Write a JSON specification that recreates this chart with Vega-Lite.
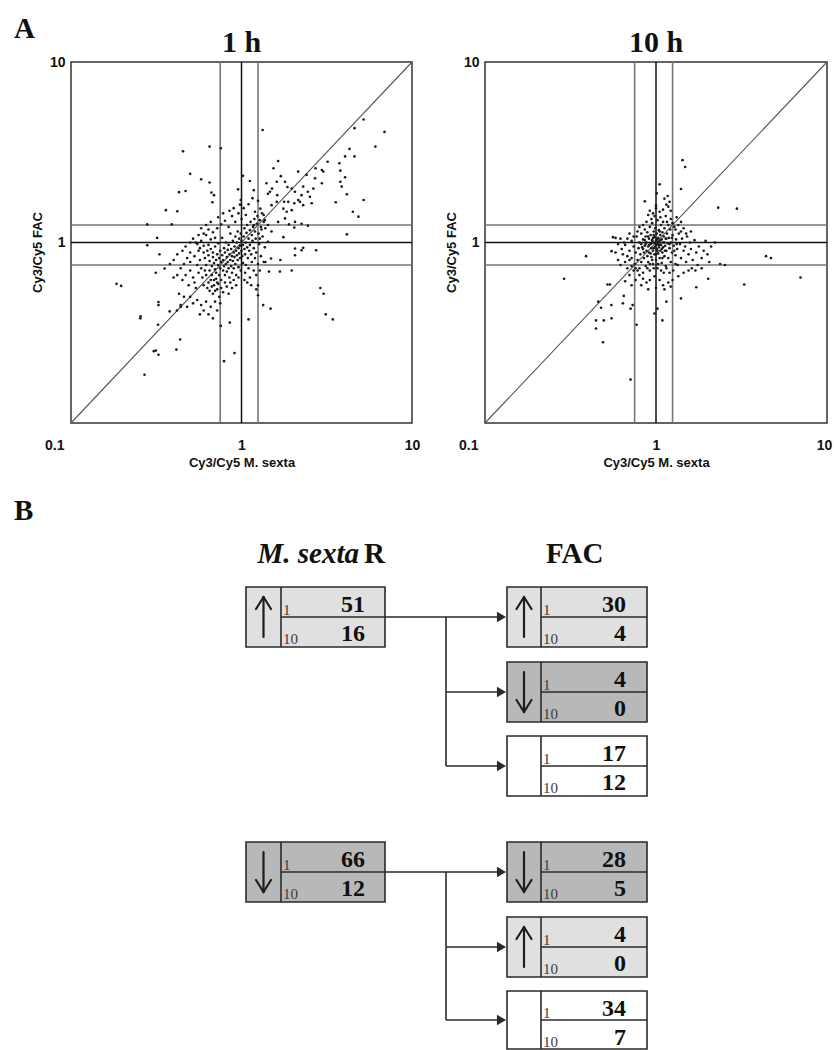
{
"$schema": "https://vega.github.io/schema/vega-lite/v6.json",
"padding": {"left": 13, "top": 14, "right": 0, "bottom": 0},
"background": "white",
"config": {
 "view": {"stroke": null},
 "axis": {"domain": false, "ticks": false, "tickSize": 0, "grid": false, "labelFont": "Liberation Sans", "labelFontWeight": "bold", "labelFontSize": 14, "labelColor": "#111", "titleFont": "Liberation Sans", "titleFontWeight": "bold", "titleFontSize": 13, "titleColor": "#111", "labelOverlap": false, "labelFlush": false}
},
"datasets": {
 "h1": [
  {"msexta":5.2,"fac":4.8},{"msexta":6.9,"fac":4.1},{"msexta":6.1,"fac":3.4},{"msexta":4.6,"fac":4.3},{"msexta":4.3,"fac":3.3},{"msexta":4.05,"fac":3.0},{"msexta":4.6,"fac":3.0},{"msexta":3.75,"fac":2.75},{"msexta":3.8,"fac":2.5},{"msexta":4.05,"fac":2.3},{"msexta":3.8,"fac":2.17},{"msexta":3.87,"fac":2.04},{"msexta":4.15,"fac":1.85},{"msexta":3.57,"fac":1.67},{"msexta":5.2,"fac":1.72},{"msexta":4.5,"fac":1.48},{"msexta":4.85,"fac":1.39},{"msexta":4.15,"fac":1.11},{"msexta":1.33,"fac":4.2},{"msexta":0.454,"fac":3.2},{"msexta":0.65,"fac":3.4},{"msexta":0.756,"fac":3.33},{"msexta":0.5,"fac":2.4},{"msexta":0.58,"fac":2.24},{"msexta":0.65,"fac":2.15},{"msexta":0.43,"fac":1.9},{"msexta":0.47,"fac":1.93},{"msexta":0.666,"fac":1.89},{"msexta":0.69,"fac":1.83},{"msexta":0.675,"fac":1.67},{"msexta":0.36,"fac":1.51},{"msexta":0.42,"fac":1.49},{"msexta":0.28,"fac":1.26},{"msexta":0.39,"fac":1.26},{"msexta":0.32,"fac":1.06},{"msexta":0.28,"fac":0.966},{"msexta":0.33,"fac":0.86},{"msexta":0.354,"fac":0.717},{"msexta":0.314,"fac":0.68},{"msexta":0.185,"fac":0.59},{"msexta":0.197,"fac":0.575},{"msexta":0.326,"fac":0.468},{"msexta":0.326,"fac":0.45},{"msexta":0.256,"fac":0.39},{"msexta":0.255,"fac":0.38},{"msexta":0.324,"fac":0.35},{"msexta":0.379,"fac":0.415},{"msexta":0.418,"fac":0.42},{"msexta":0.44,"fac":0.44},{"msexta":0.437,"fac":0.29},{"msexta":0.415,"fac":0.255},{"msexta":0.306,"fac":0.25},{"msexta":0.315,"fac":0.252},{"msexta":0.326,"fac":0.239},{"msexta":0.27,"fac":0.185},{"msexta":0.79,"fac":0.22},{"msexta":0.91,"fac":0.244},{"msexta":0.756,"fac":0.345},{"msexta":0.854,"fac":0.36},{"msexta":1.1,"fac":0.375},{"msexta":2.9,"fac":0.56},{"msexta":3.03,"fac":0.52},{"msexta":3.12,"fac":0.4},{"msexta":3.43,"fac":0.375},{"msexta":2.25,"fac":0.906},{"msexta":2.74,"fac":0.906},{"msexta":1.76,"fac":1.07},{"msexta":1.97,"fac":0.7},{"msexta":1.68,"fac":0.69},{"msexta":1.45,"fac":0.69},{"msexta":1.48,"fac":0.43},{"msexta":1.34,"fac":0.45},{"msexta":1.25,"fac":0.51},{"msexta":1.22,"fac":0.55},{"msexta":1.25,"fac":0.58},
  {"msexta":2.96,"fac":2.52},{"msexta":3.02,"fac":2.47},{"msexta":3.2,"fac":2.8},{"msexta":2.72,"fac":2.58},{"msexta":2.7,"fac":2.27},{"msexta":2.41,"fac":2.37},{"msexta":2.3,"fac":2.04},{"msexta":2.15,"fac":2.47},{"msexta":2.06,"fac":1.91},{"msexta":1.97,"fac":1.99},{"msexta":1.86,"fac":2.03},{"msexta":1.8,"fac":2.17},{"msexta":1.7,"fac":2.33},{"msexta":1.64,"fac":2.83},{"msexta":1.54,"fac":2.58},{"msexta":1.51,"fac":1.99},{"msexta":1.43,"fac":1.86},{"msexta":1.5,"fac":1.61},{"msexta":1.61,"fac":1.68},{"msexta":1.76,"fac":1.54},{"msexta":1.88,"fac":1.68},{"msexta":2.04,"fac":1.65},{"msexta":2.2,"fac":1.68},{"msexta":2.3,"fac":1.61},{"msexta":2.45,"fac":1.91},{"msexta":2.52,"fac":1.79},{"msexta":2.58,"fac":1.65},{"msexta":2.96,"fac":2.13},{"msexta":2.64,"fac":1.99},{"msexta":2.25,"fac":1.83},{"msexta":2.15,"fac":1.72},{"msexta":1.97,"fac":1.51},{"msexta":1.84,"fac":1.48},{"msexta":2.06,"fac":1.3},{"msexta":2.25,"fac":1.27},{"msexta":2.45,"fac":1.24},{"msexta":1.61,"fac":2.17},{"msexta":1.78,"fac":1.68},{"msexta":1.62,"fac":1.83},{"msexta":1.47,"fac":1.91},{"msexta":1.4,"fac":2.13},{"msexta":1.35,"fac":1.42},{"msexta":1.37,"fac":1.33},{"msexta":1.29,"fac":1.54},{"msexta":1.2,"fac":1.48},{"msexta":1.16,"fac":1.76},{"msexta":1.18,"fac":1.95},{"msexta":1.12,"fac":2.19},{"msexta":1.02,"fac":2.34},{"msexta":0.955,"fac":1.97},{"msexta":0.99,"fac":1.72},{"msexta":1.06,"fac":1.42},{"msexta":1.1,"fac":1.63},{"msexta":1.25,"fac":1.7},{"msexta":1.18,"fac":1.25},{"msexta":1.31,"fac":1.18},{"msexta":1.43,"fac":1.25},{"msexta":1.5,"fac":1.15},{"msexta":1.64,"fac":1.3},{"msexta":1.8,"fac":1.36},{"msexta":1.9,"fac":1.26},{"msexta":2.04,"fac":1.21},{"msexta":2.3,"fac":0.934},{"msexta":2.06,"fac":0.926},{"msexta":1.43,"fac":1.01},{"msexta":1.28,"fac":1.05},{"msexta":1.38,"fac":0.78},{"msexta":1.49,"fac":0.815},{"msexta":1.69,"fac":0.8},{"msexta":2.06,"fac":0.85},
  {"msexta":0.52,"fac":1.05},{"msexta":0.55,"fac":0.98},{"msexta":0.57,"fac":0.93},{"msexta":0.58,"fac":1.02},{"msexta":0.6,"fac":0.88},{"msexta":0.6,"fac":0.96},{"msexta":0.61,"fac":0.82},{"msexta":0.62,"fac":1.1},{"msexta":0.62,"fac":0.75},{"msexta":0.63,"fac":0.9},{"msexta":0.64,"fac":0.85},{"msexta":0.64,"fac":0.97},{"msexta":0.65,"fac":0.7},{"msexta":0.65,"fac":0.79},{"msexta":0.66,"fac":0.92},{"msexta":0.66,"fac":1.04},{"msexta":0.67,"fac":0.66},{"msexta":0.67,"fac":0.74},{"msexta":0.68,"fac":0.83},{"msexta":0.68,"fac":0.88},{"msexta":0.69,"fac":0.62},{"msexta":0.69,"fac":0.77},{"msexta":0.7,"fac":0.95},{"msexta":0.7,"fac":0.71},{"msexta":0.71,"fac":0.8},{"msexta":0.71,"fac":0.68},{"msexta":0.72,"fac":0.86},{"msexta":0.72,"fac":0.6},{"msexta":0.73,"fac":0.75},{"msexta":0.73,"fac":0.99},{"msexta":0.74,"fac":0.82},{"msexta":0.74,"fac":0.66},{"msexta":0.75,"fac":0.72},{"msexta":0.75,"fac":0.9},{"msexta":0.76,"fac":0.78},{"msexta":0.76,"fac":0.62},{"msexta":0.77,"fac":0.85},{"msexta":0.77,"fac":1.06},{"msexta":0.78,"fac":0.7},{"msexta":0.78,"fac":0.8},{"msexta":0.79,"fac":0.93},{"msexta":0.79,"fac":0.74},{"msexta":0.8,"fac":0.66},{"msexta":0.8,"fac":0.88},{"msexta":0.81,"fac":0.76},{"msexta":0.81,"fac":1.0},{"msexta":0.82,"fac":0.83},{"msexta":0.82,"fac":0.69},{"msexta":0.83,"fac":0.91},{"msexta":0.83,"fac":0.78},{"msexta":0.84,"fac":0.72},{"msexta":0.84,"fac":0.97},{"msexta":0.85,"fac":0.86},{"msexta":0.85,"fac":0.64},{"msexta":0.86,"fac":0.8},{"msexta":0.86,"fac":1.12},{"msexta":0.87,"fac":0.74},{"msexta":0.87,"fac":0.92},{"msexta":0.88,"fac":0.84},{"msexta":0.88,"fac":0.68},{"msexta":0.89,"fac":1.02},{"msexta":0.89,"fac":0.79},{"msexta":0.9,"fac":0.88},{"msexta":0.9,"fac":0.72},{"msexta":0.91,"fac":0.95},{"msexta":0.91,"fac":0.83},{"msexta":0.92,"fac":1.08},{"msexta":0.92,"fac":0.76},{"msexta":0.93,"fac":0.9},{"msexta":0.93,"fac":0.66},{"msexta":0.94,"fac":0.85},{"msexta":0.94,"fac":1.0},{"msexta":0.95,"fac":0.8},{"msexta":0.95,"fac":1.15},{"msexta":0.96,"fac":0.93},{"msexta":0.96,"fac":0.73},{"msexta":0.97,"fac":0.87},{"msexta":0.97,"fac":1.05},{"msexta":0.98,"fac":0.82},{"msexta":0.98,"fac":0.96},{"msexta":0.99,"fac":0.7},{"msexta":0.99,"fac":1.12},{"msexta":1.0,"fac":0.9},{"msexta":1.0,"fac":1.02},{"msexta":1.01,"fac":0.84},{"msexta":1.02,"fac":0.97},{"msexta":1.02,"fac":0.77},{"msexta":1.03,"fac":1.08},{"msexta":1.04,"fac":0.92},{"msexta":1.04,"fac":1.2},{"msexta":1.05,"fac":0.86},{"msexta":1.06,"fac":1.0},{"msexta":1.06,"fac":0.75},{"msexta":1.07,"fac":1.13},{"msexta":1.08,"fac":0.94},{"msexta":1.08,"fac":1.25},{"msexta":1.09,"fac":0.82},{"msexta":1.1,"fac":1.05},{"msexta":1.11,"fac":0.9},{"msexta":1.12,"fac":1.17},{"msexta":1.12,"fac":0.97},{"msexta":1.13,"fac":1.3},{"msexta":1.14,"fac":0.86},{"msexta":1.15,"fac":1.1},{"msexta":1.16,"fac":1.02},{"msexta":1.17,"fac":1.22},{"msexta":1.18,"fac":0.93},{"msexta":1.19,"fac":1.35},{"msexta":1.2,"fac":1.15},{"msexta":1.21,"fac":1.05},{"msexta":1.22,"fac":0.88},{"msexta":1.23,"fac":1.27},{"msexta":1.24,"fac":1.4},{"msexta":1.26,"fac":1.12},{"msexta":1.27,"fac":0.98},{"msexta":1.28,"fac":1.33},{"msexta":1.3,"fac":1.22},{"msexta":1.32,"fac":1.45},{"msexta":1.33,"fac":1.08},{"msexta":1.35,"fac":1.3},{"msexta":1.37,"fac":0.94},{"msexta":1.38,"fac":1.2},
  {"msexta":0.55,"fac":0.75},{"msexta":0.56,"fac":0.68},{"msexta":0.57,"fac":0.8},{"msexta":0.58,"fac":0.72},{"msexta":0.59,"fac":0.64},{"msexta":0.6,"fac":0.58},{"msexta":0.61,"fac":0.7},{"msexta":0.62,"fac":0.66},{"msexta":0.63,"fac":0.56},{"msexta":0.64,"fac":0.6},{"msexta":0.65,"fac":0.54},{"msexta":0.66,"fac":0.62},{"msexta":0.67,"fac":0.57},{"msexta":0.68,"fac":0.52},{"msexta":0.69,"fac":0.58},{"msexta":0.7,"fac":0.54},{"msexta":0.71,"fac":0.63},{"msexta":0.72,"fac":0.55},{"msexta":0.73,"fac":0.59},{"msexta":0.74,"fac":0.5},{"msexta":0.76,"fac":0.56},{"msexta":0.78,"fac":0.53},{"msexta":0.8,"fac":0.6},{"msexta":0.82,"fac":0.57},{"msexta":0.84,"fac":0.52},{"msexta":0.86,"fac":0.6},{"msexta":0.88,"fac":0.56},{"msexta":0.9,"fac":0.62},{"msexta":0.93,"fac":0.58},{"msexta":0.96,"fac":0.64},{"msexta":0.5,"fac":0.88},{"msexta":0.48,"fac":0.82},{"msexta":0.46,"fac":0.76},{"msexta":0.5,"fac":0.7},{"msexta":0.52,"fac":0.64},{"msexta":0.53,"fac":0.6},{"msexta":0.54,"fac":0.56},{"msexta":0.44,"fac":0.72},{"msexta":0.47,"fac":0.66},{"msexta":0.49,"fac":0.58},{"msexta":0.45,"fac":0.62},{"msexta":0.42,"fac":0.66},{"msexta":0.4,"fac":0.64},{"msexta":0.43,"fac":0.52},{"msexta":0.46,"fac":0.5},{"msexta":0.5,"fac":0.5},{"msexta":0.55,"fac":0.48},{"msexta":0.58,"fac":0.45},{"msexta":0.62,"fac":0.47},{"msexta":0.66,"fac":0.44},{"msexta":0.7,"fac":0.47},{"msexta":0.6,"fac":0.42},{"msexta":0.57,"fac":0.4},{"msexta":0.64,"fac":0.4},{"msexta":0.68,"fac":0.38},{"msexta":0.72,"fac":0.42},{"msexta":0.75,"fac":0.46},{"msexta":0.52,"fac":0.46},{"msexta":0.48,"fac":0.44},{"msexta":0.44,"fac":0.45},{"msexta":0.5,"fac":0.78},{"msexta":0.53,"fac":0.84},{"msexta":0.56,"fac":0.9},{"msexta":0.54,"fac":1.0},{"msexta":0.5,"fac":1.0},{"msexta":0.47,"fac":0.95},{"msexta":0.45,"fac":0.9},{"msexta":0.42,"fac":0.86},{"msexta":0.4,"fac":0.8},{"msexta":0.38,"fac":0.76},{"msexta":0.6,"fac":1.12},{"msexta":0.56,"fac":1.1},{"msexta":0.64,"fac":1.18},{"msexta":0.68,"fac":1.14},{"msexta":0.7,"fac":1.06},{"msexta":0.72,"fac":1.2},{"msexta":0.76,"fac":1.26},{"msexta":0.8,"fac":1.32},{"msexta":0.84,"fac":1.22},{"msexta":0.88,"fac":1.4},{"msexta":0.92,"fac":1.3},{"msexta":0.96,"fac":1.45},{"msexta":1.0,"fac":1.35},{"msexta":1.03,"fac":1.55},{"msexta":0.98,"fac":1.62},{"msexta":0.9,"fac":1.55},{"msexta":0.85,"fac":1.5},{"msexta":0.78,"fac":1.45},{"msexta":0.73,"fac":1.38},{"msexta":0.66,"fac":1.3},{"msexta":0.62,"fac":1.25},{"msexta":0.58,"fac":1.2},{"msexta":1.05,"fac":0.68},{"msexta":1.1,"fac":0.72},{"msexta":1.15,"fac":0.78},{"msexta":1.2,"fac":0.82},{"msexta":1.25,"fac":0.76},{"msexta":1.3,"fac":0.84},{"msexta":1.12,"fac":0.64},{"msexta":1.18,"fac":0.7},{"msexta":1.22,"fac":0.66},{"msexta":1.08,"fac":0.6},{"msexta":1.04,"fac":0.62},{"msexta":1.14,"fac":0.58},{"msexta":1.35,"fac":0.78},{"msexta":1.28,"fac":0.7}
 ],
 "h10": [
  {"msexta":1.43,"fac":2.86},{"msexta":1.48,"fac":2.62},{"msexta":1.05,"fac":2.1},{"msexta":1.4,"fac":1.98},{"msexta":1.17,"fac":1.81},{"msexta":2.31,"fac":1.56},{"msexta":2.97,"fac":1.54},{"msexta":0.86,"fac":1.69},{"msexta":1.01,"fac":1.87},{"msexta":0.39,"fac":0.84},{"msexta":0.29,"fac":0.63},{"msexta":4.4,"fac":0.84},{"msexta":4.7,"fac":0.82},{"msexta":7.0,"fac":0.64},{"msexta":3.28,"fac":0.585},{"msexta":0.46,"fac":0.47},{"msexta":0.477,"fac":0.435},{"msexta":0.446,"fac":0.37},{"msexta":0.495,"fac":0.37},{"msexta":0.55,"fac":0.38},{"msexta":0.446,"fac":0.334},{"msexta":0.49,"fac":0.28},{"msexta":0.548,"fac":0.45},{"msexta":0.71,"fac":0.174},{"msexta":0.77,"fac":0.35},{"msexta":1.09,"fac":0.37},{"msexta":0.98,"fac":0.404},{"msexta":1.15,"fac":0.47},{"msexta":1.02,"fac":0.43},{"msexta":0.648,"fac":0.506},{"msexta":0.64,"fac":0.46},{"msexta":0.71,"fac":0.43},{"msexta":0.73,"fac":0.45},{"msexta":0.55,"fac":0.895},{"msexta":0.52,"fac":0.585},{"msexta":0.538,"fac":0.585},{"msexta":0.66,"fac":0.61},{"msexta":1.4,"fac":0.49},{"msexta":1.72,"fac":0.565},{"msexta":2.02,"fac":0.63},{"msexta":2.21,"fac":1.0},{"msexta":2.37,"fac":0.76},{"msexta":2.53,"fac":0.75},
  {"msexta":0.66,"fac":0.97},{"msexta":0.68,"fac":1.05},{"msexta":0.7,"fac":0.9},{"msexta":0.72,"fac":1.02},{"msexta":0.72,"fac":0.82},{"msexta":0.74,"fac":0.95},{"msexta":0.75,"fac":0.76},{"msexta":0.76,"fac":0.88},{"msexta":0.77,"fac":1.08},{"msexta":0.78,"fac":0.8},{"msexta":0.79,"fac":0.93},{"msexta":0.8,"fac":0.72},{"msexta":0.8,"fac":1.0},{"msexta":0.81,"fac":0.86},{"msexta":0.82,"fac":1.12},{"msexta":0.82,"fac":0.78},{"msexta":0.83,"fac":0.94},{"msexta":0.84,"fac":0.68},{"msexta":0.84,"fac":1.04},{"msexta":0.85,"fac":0.88},{"msexta":0.85,"fac":0.82},{"msexta":0.86,"fac":1.18},{"msexta":0.86,"fac":0.96},{"msexta":0.87,"fac":0.74},{"msexta":0.87,"fac":1.08},{"msexta":0.88,"fac":0.9},{"msexta":0.88,"fac":1.0},{"msexta":0.89,"fac":0.84},{"msexta":0.89,"fac":1.14},{"msexta":0.9,"fac":0.78},{"msexta":0.9,"fac":0.95},{"msexta":0.91,"fac":1.05},{"msexta":0.91,"fac":0.88},{"msexta":0.92,"fac":1.22},{"msexta":0.92,"fac":0.7},{"msexta":0.93,"fac":0.98},{"msexta":0.93,"fac":1.1},{"msexta":0.94,"fac":0.83},{"msexta":0.94,"fac":0.93},{"msexta":0.95,"fac":1.03},{"msexta":0.95,"fac":1.28},{"msexta":0.96,"fac":0.76},{"msexta":0.96,"fac":0.9},{"msexta":0.97,"fac":1.15},{"msexta":0.97,"fac":1.0},{"msexta":0.98,"fac":0.86},{"msexta":0.98,"fac":1.07},{"msexta":0.99,"fac":0.95},{"msexta":0.99,"fac":1.2},{"msexta":1.0,"fac":0.8},{"msexta":1.0,"fac":1.02},{"msexta":1.01,"fac":0.92},{"msexta":1.01,"fac":1.12},{"msexta":1.02,"fac":0.98},{"msexta":1.02,"fac":0.72},{"msexta":1.03,"fac":1.06},{"msexta":1.03,"fac":0.87},{"msexta":1.04,"fac":1.17},{"msexta":1.04,"fac":0.94},{"msexta":1.05,"fac":1.0},{"msexta":1.05,"fac":0.82},{"msexta":1.06,"fac":1.1},{"msexta":1.06,"fac":0.9},{"msexta":1.07,"fac":1.25},{"msexta":1.07,"fac":0.97},{"msexta":1.08,"fac":0.77},{"msexta":1.08,"fac":1.04},{"msexta":1.09,"fac":0.88},{"msexta":1.09,"fac":1.14},{"msexta":1.1,"fac":0.94},{"msexta":1.1,"fac":1.0},{"msexta":1.11,"fac":0.68},{"msexta":1.11,"fac":1.08},{"msexta":1.12,"fac":0.84},{"msexta":1.12,"fac":1.2},{"msexta":1.13,"fac":0.96},{"msexta":1.14,"fac":1.05},{"msexta":1.14,"fac":0.74},{"msexta":1.15,"fac":0.9},{"msexta":1.16,"fac":1.12},{"msexta":1.16,"fac":1.3},{"msexta":1.17,"fac":0.99},{"msexta":1.18,"fac":0.82},{"msexta":1.19,"fac":1.06},{"msexta":1.2,"fac":0.93},{"msexta":1.21,"fac":1.18},{"msexta":1.22,"fac":0.78},{"msexta":1.23,"fac":1.0},{"msexta":1.24,"fac":0.88},{"msexta":1.25,"fac":1.1},{"msexta":1.26,"fac":0.7},{"msexta":1.27,"fac":0.96},{"msexta":1.28,"fac":1.22},{"msexta":1.3,"fac":0.85},{"msexta":1.31,"fac":1.04},{"msexta":1.33,"fac":0.92},{"msexta":1.34,"fac":0.75},{"msexta":1.36,"fac":1.12},{"msexta":1.38,"fac":0.98},{"msexta":1.4,"fac":0.82},{"msexta":1.42,"fac":1.05},{"msexta":1.45,"fac":0.9},{"msexta":1.48,"fac":0.95},{"msexta":1.5,"fac":0.78},{"msexta":1.52,"fac":1.08},{"msexta":1.55,"fac":0.86},{"msexta":1.58,"fac":1.0},{"msexta":1.6,"fac":0.92},{"msexta":1.64,"fac":0.8},{"msexta":1.68,"fac":1.03},{"msexta":1.72,"fac":0.88},{"msexta":1.78,"fac":0.95},{"msexta":1.85,"fac":0.82},{"msexta":1.9,"fac":0.9},{"msexta":1.95,"fac":1.02},{"msexta":2.0,"fac":0.86},{"msexta":2.05,"fac":0.78},{"msexta":1.62,"fac":0.72},{"msexta":1.7,"fac":0.7},{"msexta":1.45,"fac":0.68},{"msexta":1.35,"fac":0.65},{"msexta":1.25,"fac":0.62},{"msexta":1.18,"fac":0.6},{"msexta":1.1,"fac":0.58},{"msexta":1.05,"fac":0.62},{"msexta":0.98,"fac":0.65},{"msexta":0.92,"fac":0.62},{"msexta":0.88,"fac":0.6},{"msexta":0.84,"fac":0.63},{"msexta":0.8,"fac":0.66},{"msexta":0.78,"fac":0.7},{"msexta":0.76,"fac":0.72},{"msexta":0.74,"fac":0.7},{"msexta":0.72,"fac":0.74},{"msexta":0.7,"fac":0.8},{"msexta":0.68,"fac":0.84},{"msexta":0.66,"fac":0.78},{"msexta":0.64,"fac":0.86},{"msexta":0.63,"fac":0.92},{"msexta":0.65,"fac":1.0},{"msexta":0.62,"fac":1.05},{"msexta":0.6,"fac":0.98},{"msexta":0.58,"fac":0.88},{"msexta":0.6,"fac":0.8},{"msexta":0.62,"fac":0.75},{"msexta":0.56,"fac":1.07},{"msexta":0.58,"fac":1.06},{"msexta":0.7,"fac":1.12},{"msexta":0.74,"fac":1.08},{"msexta":0.78,"fac":1.15},{"msexta":0.8,"fac":1.22},{"msexta":0.84,"fac":1.25},{"msexta":0.88,"fac":1.3},{"msexta":0.94,"fac":1.35},{"msexta":0.98,"fac":1.4},{"msexta":1.02,"fac":1.33},{"msexta":1.06,"fac":1.38},{"msexta":1.1,"fac":1.3},{"msexta":1.14,"fac":1.4},{"msexta":1.18,"fac":1.25},{"msexta":1.22,"fac":1.35},{"msexta":1.25,"fac":1.28},{"msexta":1.3,"fac":1.18},{"msexta":1.35,"fac":1.25},{"msexta":1.4,"fac":1.15},{"msexta":1.45,"fac":1.2},{"msexta":1.22,"fac":1.5},{"msexta":1.18,"fac":1.58},{"msexta":1.15,"fac":1.62},{"msexta":1.1,"fac":1.52},{"msexta":1.05,"fac":1.48},{"msexta":1.0,"fac":1.55},{"msexta":0.96,"fac":1.45},{"msexta":0.9,"fac":1.42},{"msexta":0.92,"fac":1.5},{"msexta":1.2,"fac":1.68},{"msexta":1.12,"fac":1.75},{"msexta":1.0,"fac":1.6},{"msexta":0.95,"fac":1.02},{"msexta":0.96,"fac":1.06},{"msexta":1.0,"fac":0.97},{"msexta":1.03,"fac":1.01},{"msexta":0.97,"fac":0.93},{"msexta":1.01,"fac":1.04},{"msexta":0.99,"fac":0.99},{"msexta":1.04,"fac":0.97},{"msexta":0.94,"fac":0.99},{"msexta":1.06,"fac":1.03},{"msexta":0.91,"fac":0.97},{"msexta":1.02,"fac":0.9},{"msexta":0.97,"fac":1.1},{"msexta":1.08,"fac":0.92},{"msexta":0.9,"fac":1.08},{"msexta":1.05,"fac":1.15},{"msexta":0.93,"fac":0.87},{"msexta":1.12,"fac":1.0},{"msexta":0.87,"fac":0.98},{"msexta":1.0,"fac":0.86},{"msexta":0.86,"fac":1.03},{"msexta":1.15,"fac":1.05},{"msexta":1.13,"fac":0.9},{"msexta":0.84,"fac":0.92},{"msexta":0.82,"fac":0.98},{"msexta":0.95,"fac":0.8},{"msexta":1.09,"fac":0.82},{"msexta":1.2,"fac":0.98},{"msexta":1.24,"fac":1.06},{"msexta":1.28,"fac":0.9},{"msexta":1.32,"fac":0.98},{"msexta":0.89,"fac":0.72},{"msexta":0.92,"fac":0.76},{"msexta":0.97,"fac":0.72},{"msexta":1.03,"fac":0.76},{"msexta":1.07,"fac":0.7},{"msexta":1.15,"fac":0.72},{"msexta":1.2,"fac":0.68},{"msexta":1.3,"fac":0.76},{"msexta":0.76,"fac":0.62},{"msexta":0.72,"fac":0.58},{"msexta":0.82,"fac":0.58},{"msexta":0.9,"fac":0.55},{"msexta":1.0,"fac":0.56},{"msexta":1.12,"fac":0.55},{"msexta":1.22,"fac":0.57},{"msexta":0.7,"fac":0.66},{"msexta":0.68,"fac":0.72},{"msexta":1.55,"fac":0.7},{"msexta":1.75,"fac":0.75},{"msexta":1.85,"fac":0.72},{"msexta":2.1,"fac":0.95},{"msexta":1.5,"fac":1.12},{"msexta":1.6,"fac":1.15},{"msexta":1.4,"fac":1.3},{"msexta":1.32,"fac":1.38}
 ]
},
"vconcat": [
 {
  "hconcat": [
   {
    "width": 341, "height": 361,
    "view": {"stroke": "#333", "strokeWidth": 1.5},
    "title": {"text": "1 h", "font": "Liberation Serif", "fontSize": 30, "fontWeight": "bold", "color": "#111", "baseline": "alphabetic", "offset": -67, "frame": "group"},
    "layer": [
     {"data": {"values": [{"msexta": 0.75}, {"msexta": 1.25}]}, "mark": {"type": "rule", "color": "#777", "strokeWidth": 1.6},
      "encoding": {"x": {"field": "msexta", "type": "quantitative", "scale": {"type": "log", "domain": [0.1, 10], "nice": false},
        "axis": {"title": "Cy3/Cy5 M. sexta", "values": [0.1, 1, 10], "labelExpr": "datum.value < 0.5 ? '0.1' : (datum.value < 5 ? '1' : '10')", "labelAlign": {"condition": {"test": "datum.value < 0.5", "value": "right"}, "value": "center"}, "labelOffset": {"condition": {"test": "datum.value < 0.5", "value": -7}, "value": 0}, "labelPadding": 15, "titlePadding": 4, "labelBound": false}}}},
     {"data": {"values": [{"fac": 0.75}, {"fac": 1.25}]}, "mark": {"type": "rule", "color": "#777", "strokeWidth": 1.6},
      "encoding": {"y": {"field": "fac", "type": "quantitative", "scale": {"type": "log", "domain": [0.1, 10], "nice": false},
        "axis": {"title": "Cy3/Cy5 FAC", "values": [1, 10], "labelExpr": "datum.value < 5 ? '1' : '10'", "labelPadding": 6, "titlePadding": 5, "titleY": 190}}}},
     {"data": {"values": [{"msexta": 1}]}, "mark": {"type": "rule", "color": "#111", "strokeWidth": 1.5},
      "encoding": {"x": {"field": "msexta", "type": "quantitative", "scale": {"type": "log", "domain": [0.1, 10], "nice": false},
        "axis": {"title": "Cy3/Cy5 M. sexta", "values": [0.1, 1, 10], "labelExpr": "datum.value < 0.5 ? '0.1' : (datum.value < 5 ? '1' : '10')", "labelAlign": {"condition": {"test": "datum.value < 0.5", "value": "right"}, "value": "center"}, "labelOffset": {"condition": {"test": "datum.value < 0.5", "value": -7}, "value": 0}, "labelPadding": 15, "titlePadding": 4, "labelBound": false}}}},
     {"data": {"values": [{"fac": 1}]}, "mark": {"type": "rule", "color": "#111", "strokeWidth": 1.5},
      "encoding": {"y": {"field": "fac", "type": "quantitative", "scale": {"type": "log", "domain": [0.1, 10], "nice": false},
        "axis": {"title": "Cy3/Cy5 FAC", "values": [1, 10], "labelExpr": "datum.value < 5 ? '1' : '10'", "labelPadding": 6, "titlePadding": 5, "titleY": 190}}}},
     {"data": {"values": [{"msexta": 0.1, "fac": 0.1, "msexta2": 10, "fac2": 10}]}, "mark": {"type": "rule", "color": "#555", "strokeWidth": 1.1},
      "encoding": {"x": {"field": "msexta", "type": "quantitative", "scale": {"type": "log", "domain": [0.1, 10], "nice": false},
        "axis": {"title": "Cy3/Cy5 M. sexta", "values": [0.1, 1, 10], "labelExpr": "datum.value < 0.5 ? '0.1' : (datum.value < 5 ? '1' : '10')", "labelAlign": {"condition": {"test": "datum.value < 0.5", "value": "right"}, "value": "center"}, "labelOffset": {"condition": {"test": "datum.value < 0.5", "value": -7}, "value": 0}, "labelPadding": 15, "titlePadding": 4, "labelBound": false}},
       "y": {"field": "fac", "type": "quantitative", "scale": {"type": "log", "domain": [0.1, 10], "nice": false},
        "axis": {"title": "Cy3/Cy5 FAC", "values": [1, 10], "labelExpr": "datum.value < 5 ? '1' : '10'", "labelPadding": 6, "titlePadding": 5, "titleY": 190}},
       "x2": {"field": "msexta2"}, "y2": {"field": "fac2"}}},
     {"data": {"name": "h1"}, "mark": {"type": "circle", "size": 7, "color": "#1a1a1a", "opacity": 1},
      "encoding": {"x": {"field": "msexta", "type": "quantitative", "scale": {"type": "log", "domain": [0.1, 10], "nice": false},
        "axis": {"title": "Cy3/Cy5 M. sexta", "values": [0.1, 1, 10], "labelExpr": "datum.value < 0.5 ? '0.1' : (datum.value < 5 ? '1' : '10')", "labelAlign": {"condition": {"test": "datum.value < 0.5", "value": "right"}, "value": "center"}, "labelOffset": {"condition": {"test": "datum.value < 0.5", "value": -7}, "value": 0}, "labelPadding": 15, "titlePadding": 4, "labelBound": false}},
       "y": {"field": "fac", "type": "quantitative", "scale": {"type": "log", "domain": [0.1, 10], "nice": false},
        "axis": {"title": "Cy3/Cy5 FAC", "values": [1, 10], "labelExpr": "datum.value < 5 ? '1' : '10'", "labelPadding": 6, "titlePadding": 5, "titleY": 190}}}},
     {"data": {"values": [{"msexta": 0.0463, "fac": 13.6, "label": "A"}]}, "mark": {"type": "text", "font": "Liberation Serif", "fontSize": 29, "fontWeight": "bold", "color": "#111", "align": "left", "baseline": "alphabetic"},
      "encoding": {"x": {"field": "msexta", "type": "quantitative", "scale": {"type": "log", "domain": [0.1, 10], "nice": false},
        "axis": {"title": "Cy3/Cy5 M. sexta", "values": [0.1, 1, 10], "labelExpr": "datum.value < 0.5 ? '0.1' : (datum.value < 5 ? '1' : '10')", "labelAlign": {"condition": {"test": "datum.value < 0.5", "value": "right"}, "value": "center"}, "labelOffset": {"condition": {"test": "datum.value < 0.5", "value": -7}, "value": 0}, "labelPadding": 15, "titlePadding": 4, "labelBound": false}},
       "y": {"field": "fac", "type": "quantitative", "scale": {"type": "log", "domain": [0.1, 10], "nice": false},
        "axis": {"title": "Cy3/Cy5 FAC", "values": [1, 10], "labelExpr": "datum.value < 5 ? '1' : '10'", "labelPadding": 6, "titlePadding": 5, "titleY": 190}},
       "text": {"field": "label"}}}
    ]
   },
   {
    "width": 342, "height": 361,
    "view": {"stroke": "#333", "strokeWidth": 1.5},
    "title": {"text": "10 h", "font": "Liberation Serif", "fontSize": 30, "fontWeight": "bold", "color": "#111", "baseline": "alphabetic", "offset": -27, "frame": "group"},
    "layer": [
     {"data": {"values": [{"msexta": 0.75}, {"msexta": 1.25}]}, "mark": {"type": "rule", "color": "#777", "strokeWidth": 1.6},
      "encoding": {"x": {"field": "msexta", "type": "quantitative", "scale": {"type": "log", "domain": [0.1, 10], "nice": false},
        "axis": {"title": "Cy3/Cy5 M. sexta", "values": [0.1, 1, 10], "labelExpr": "datum.value < 0.5 ? '0.1' : (datum.value < 5 ? '1' : '10')", "labelAlign": {"condition": {"test": "datum.value < 0.5", "value": "right"}, "value": "center"}, "labelOffset": {"condition": [{"test": "datum.value < 0.5", "value": -7}, {"test": "datum.value > 5", "value": -3}], "value": 0}, "labelPadding": 15, "titlePadding": 4, "labelBound": false}}}},
     {"data": {"values": [{"fac": 0.75}, {"fac": 1.25}]}, "mark": {"type": "rule", "color": "#777", "strokeWidth": 1.6},
      "encoding": {"y": {"field": "fac", "type": "quantitative", "scale": {"type": "log", "domain": [0.1, 10], "nice": false},
        "axis": {"title": "Cy3/Cy5 FAC", "values": [1, 10], "labelExpr": "datum.value < 5 ? '1' : '10'", "labelPadding": 6, "titlePadding": 5, "titleY": 190}}}},
     {"data": {"values": [{"msexta": 1}]}, "mark": {"type": "rule", "color": "#111", "strokeWidth": 1.5},
      "encoding": {"x": {"field": "msexta", "type": "quantitative", "scale": {"type": "log", "domain": [0.1, 10], "nice": false},
        "axis": {"title": "Cy3/Cy5 M. sexta", "values": [0.1, 1, 10], "labelExpr": "datum.value < 0.5 ? '0.1' : (datum.value < 5 ? '1' : '10')", "labelAlign": {"condition": {"test": "datum.value < 0.5", "value": "right"}, "value": "center"}, "labelOffset": {"condition": [{"test": "datum.value < 0.5", "value": -7}, {"test": "datum.value > 5", "value": -3}], "value": 0}, "labelPadding": 15, "titlePadding": 4, "labelBound": false}}}},
     {"data": {"values": [{"fac": 1}]}, "mark": {"type": "rule", "color": "#111", "strokeWidth": 1.5},
      "encoding": {"y": {"field": "fac", "type": "quantitative", "scale": {"type": "log", "domain": [0.1, 10], "nice": false},
        "axis": {"title": "Cy3/Cy5 FAC", "values": [1, 10], "labelExpr": "datum.value < 5 ? '1' : '10'", "labelPadding": 6, "titlePadding": 5, "titleY": 190}}}},
     {"data": {"values": [{"msexta": 0.1, "fac": 0.1, "msexta2": 10, "fac2": 10}]}, "mark": {"type": "rule", "color": "#555", "strokeWidth": 1.1},
      "encoding": {"x": {"field": "msexta", "type": "quantitative", "scale": {"type": "log", "domain": [0.1, 10], "nice": false},
        "axis": {"title": "Cy3/Cy5 M. sexta", "values": [0.1, 1, 10], "labelExpr": "datum.value < 0.5 ? '0.1' : (datum.value < 5 ? '1' : '10')", "labelAlign": {"condition": {"test": "datum.value < 0.5", "value": "right"}, "value": "center"}, "labelOffset": {"condition": [{"test": "datum.value < 0.5", "value": -7}, {"test": "datum.value > 5", "value": -3}], "value": 0}, "labelPadding": 15, "titlePadding": 4, "labelBound": false}},
       "y": {"field": "fac", "type": "quantitative", "scale": {"type": "log", "domain": [0.1, 10], "nice": false},
        "axis": {"title": "Cy3/Cy5 FAC", "values": [1, 10], "labelExpr": "datum.value < 5 ? '1' : '10'", "labelPadding": 6, "titlePadding": 5, "titleY": 190}},
       "x2": {"field": "msexta2"}, "y2": {"field": "fac2"}}},
     {"data": {"name": "h10"}, "mark": {"type": "circle", "size": 7, "color": "#1a1a1a", "opacity": 1},
      "encoding": {"x": {"field": "msexta", "type": "quantitative", "scale": {"type": "log", "domain": [0.1, 10], "nice": false},
        "axis": {"title": "Cy3/Cy5 M. sexta", "values": [0.1, 1, 10], "labelExpr": "datum.value < 0.5 ? '0.1' : (datum.value < 5 ? '1' : '10')", "labelAlign": {"condition": {"test": "datum.value < 0.5", "value": "right"}, "value": "center"}, "labelOffset": {"condition": [{"test": "datum.value < 0.5", "value": -7}, {"test": "datum.value > 5", "value": -3}], "value": 0}, "labelPadding": 15, "titlePadding": 4, "labelBound": false}},
       "y": {"field": "fac", "type": "quantitative", "scale": {"type": "log", "domain": [0.1, 10], "nice": false},
        "axis": {"title": "Cy3/Cy5 FAC", "values": [1, 10], "labelExpr": "datum.value < 5 ? '1' : '10'", "labelPadding": 6, "titlePadding": 5, "titleY": 190}}}}
    ]
   }
  ],
  "spacing": 73,
  "bounds": "flush"
 },
 {
  "width": 764, "height": 570,
  "encoding": {
   "x": {"field": "x", "type": "quantitative", "scale": {"domain": [0, 764], "nice": false, "zero": false}, "axis": null},
   "y": {"field": "y", "type": "quantitative", "scale": {"domain": [0, 570], "reverse": true, "nice": false, "zero": false}, "axis": null}
  },
  "layer": [
   {"data": {"values": [
     {"x":175,"x2":314,"y":107,"y2":167,"state":"up"},
     {"x":436,"x2":576,"y":107,"y2":167,"state":"up"},
     {"x":436,"x2":576,"y":182,"y2":242,"state":"down"},
     {"x":436,"x2":576,"y":256,"y2":316,"state":"none"},
     {"x":175,"x2":314,"y":362,"y2":422,"state":"down"},
     {"x":436,"x2":576,"y":362,"y2":422,"state":"down"},
     {"x":436,"x2":576,"y":437,"y2":497,"state":"up"},
     {"x":436,"x2":576,"y":511,"y2":569,"state":"none"}]},
    "mark": {"type": "rect", "stroke": "#2a2a2a", "strokeWidth": 1.6},
    "encoding": {"x2": {"field": "x2"}, "y2": {"field": "y2"}, "fill": {"field": "state", "type": "nominal", "scale": {"domain": ["up", "down", "none"], "range": ["#e0e0e0", "#b8b8b8", "#ffffff"]}, "legend": null}}},
   {"data": {"values": [
     {"x":210,"y":107,"x2":210,"y2":167},{"x":470,"y":107,"x2":470,"y2":167},{"x":470,"y":182,"x2":470,"y2":242},{"x":470,"y":256,"x2":470,"y2":316},
     {"x":210,"y":362,"x2":210,"y2":422},{"x":470,"y":362,"x2":470,"y2":422},{"x":470,"y":437,"x2":470,"y2":497},{"x":470,"y":511,"x2":470,"y2":569},
     {"x":210,"y":137,"x2":314,"y2":137},{"x":470,"y":137,"x2":576,"y2":137},{"x":470,"y":212,"x2":576,"y2":212},{"x":470,"y":286,"x2":576,"y2":286},
     {"x":210,"y":392,"x2":314,"y2":392},{"x":470,"y":392,"x2":576,"y2":392},{"x":470,"y":467,"x2":576,"y2":467},{"x":470,"y":540,"x2":576,"y2":540},
     {"x":314,"y":137,"x2":428,"y2":137},{"x":375,"y":137,"x2":375,"y2":286},{"x":375,"y":212,"x2":428,"y2":212},{"x":375,"y":286,"x2":428,"y2":286},
     {"x":314,"y":392,"x2":428,"y2":392},{"x":375,"y":392,"x2":375,"y2":540},{"x":375,"y":467,"x2":428,"y2":467},{"x":375,"y":540,"x2":428,"y2":540}]},
    "mark": {"type": "rule", "color": "#2a2a2a", "strokeWidth": 1.6},
    "encoding": {"x2": {"field": "x2"}, "y2": {"field": "y2"}}},
   {"data": {"values": [
     {"x":192.5,"y":117,"x2":192.5,"y2":157},{"x":192.5,"y":117,"x2":185,"y2":129},{"x":192.5,"y":117,"x2":200,"y2":129},
     {"x":453,"y":117,"x2":453,"y2":157},{"x":453,"y":117,"x2":445.5,"y2":129},{"x":453,"y":117,"x2":460.5,"y2":129},
     {"x":453,"y":447,"x2":453,"y2":487},{"x":453,"y":447,"x2":445.5,"y2":459},{"x":453,"y":447,"x2":460.5,"y2":459},
     {"x":453,"y":192,"x2":453,"y2":232},{"x":453,"y":232,"x2":445.5,"y2":220},{"x":453,"y":232,"x2":460.5,"y2":220},
     {"x":192.5,"y":372,"x2":192.5,"y2":412},{"x":192.5,"y":412,"x2":185,"y2":400},{"x":192.5,"y":412,"x2":200,"y2":400},
     {"x":453,"y":372,"x2":453,"y2":412},{"x":453,"y":412,"x2":445.5,"y2":400},{"x":453,"y":412,"x2":460.5,"y2":400}]},
    "mark": {"type": "rule", "color": "#1e1e1e", "strokeWidth": 2.2, "strokeCap": "round"},
    "encoding": {"x2": {"field": "x2"}, "y2": {"field": "y2"}}},
   {"data": {"values": [{"x":430.5,"y":137},{"x":430.5,"y":212},{"x":430.5,"y":286},{"x":430.5,"y":392},{"x":430.5,"y":467},{"x":430.5,"y":540}]},
    "mark": {"type": "point", "shape": "triangle-right", "filled": true, "size": 110, "color": "#2a2a2a", "opacity": 1}},
   {"data": {"values": [
     {"x":294,"y":132,"n":"51"},{"x":294,"y":161,"n":"16"},
     {"x":555,"y":132,"n":"30"},{"x":555,"y":161,"n":"4"},
     {"x":555,"y":207,"n":"4"},{"x":555,"y":236,"n":"0"},
     {"x":555,"y":281,"n":"17"},{"x":555,"y":310,"n":"12"},
     {"x":294,"y":387,"n":"66"},{"x":294,"y":416,"n":"12"},
     {"x":555,"y":387,"n":"28"},{"x":555,"y":416,"n":"5"},
     {"x":555,"y":462,"n":"4"},{"x":555,"y":491,"n":"0"},
     {"x":555,"y":536,"n":"34"},{"x":555,"y":565,"n":"7"}]},
    "mark": {"type": "text", "font": "Liberation Serif", "fontSize": 24, "fontWeight": "bold", "color": "#111", "align": "right", "baseline": "alphabetic"},
    "encoding": {"text": {"field": "n"}}},
   {"data": {"values": [
     {"x":212,"y":135,"t":"1"},{"x":212,"y":164,"t":"10"},
     {"x":472,"y":135,"t":"1"},{"x":472,"y":164,"t":"10"},
     {"x":472,"y":210,"t":"1"},{"x":472,"y":239,"t":"10"},
     {"x":472,"y":284,"t":"1"},{"x":472,"y":313,"t":"10"},
     {"x":212,"y":390,"t":"1"},{"x":212,"y":419,"t":"10"},
     {"x":472,"y":390,"t":"1"},{"x":472,"y":419,"t":"10"},
     {"x":472,"y":465,"t":"1"},{"x":472,"y":494,"t":"10"},
     {"x":472,"y":538,"t":"1"},{"x":472,"y":567,"t":"10"}]},
    "mark": {"type": "text", "font": "Liberation Serif", "fontSize": 15, "color": "#3a3a3a", "align": "left", "baseline": "alphabetic"},
    "encoding": {"text": {"field": "t"}}},
   {"data": {"values": [{"x":288,"y":83,"t":"M. sexta"}]},
    "mark": {"type": "text", "font": "Liberation Serif", "fontSize": 29, "fontWeight": "bold", "fontStyle": "italic", "color": "#111", "align": "right", "baseline": "alphabetic"},
    "encoding": {"text": {"field": "t"}}},
   {"data": {"values": [{"x":293,"y":83,"t":"R"},{"x":475,"y":83,"t":"FAC"}]},
    "mark": {"type": "text", "font": "Liberation Serif", "fontSize": 29, "fontWeight": "bold", "color": "#111", "align": "left", "baseline": "alphabetic"},
    "encoding": {"text": {"field": "t"}}},
   {"data": {"values": [{"x":-57,"y":40,"t":"B"}]},
    "mark": {"type": "text", "font": "Liberation Serif", "fontSize": 29, "fontWeight": "bold", "color": "#111", "align": "left", "baseline": "alphabetic"},
    "encoding": {"text": {"field": "t"}}}
  ]
 }
],
"spacing": 10
}
